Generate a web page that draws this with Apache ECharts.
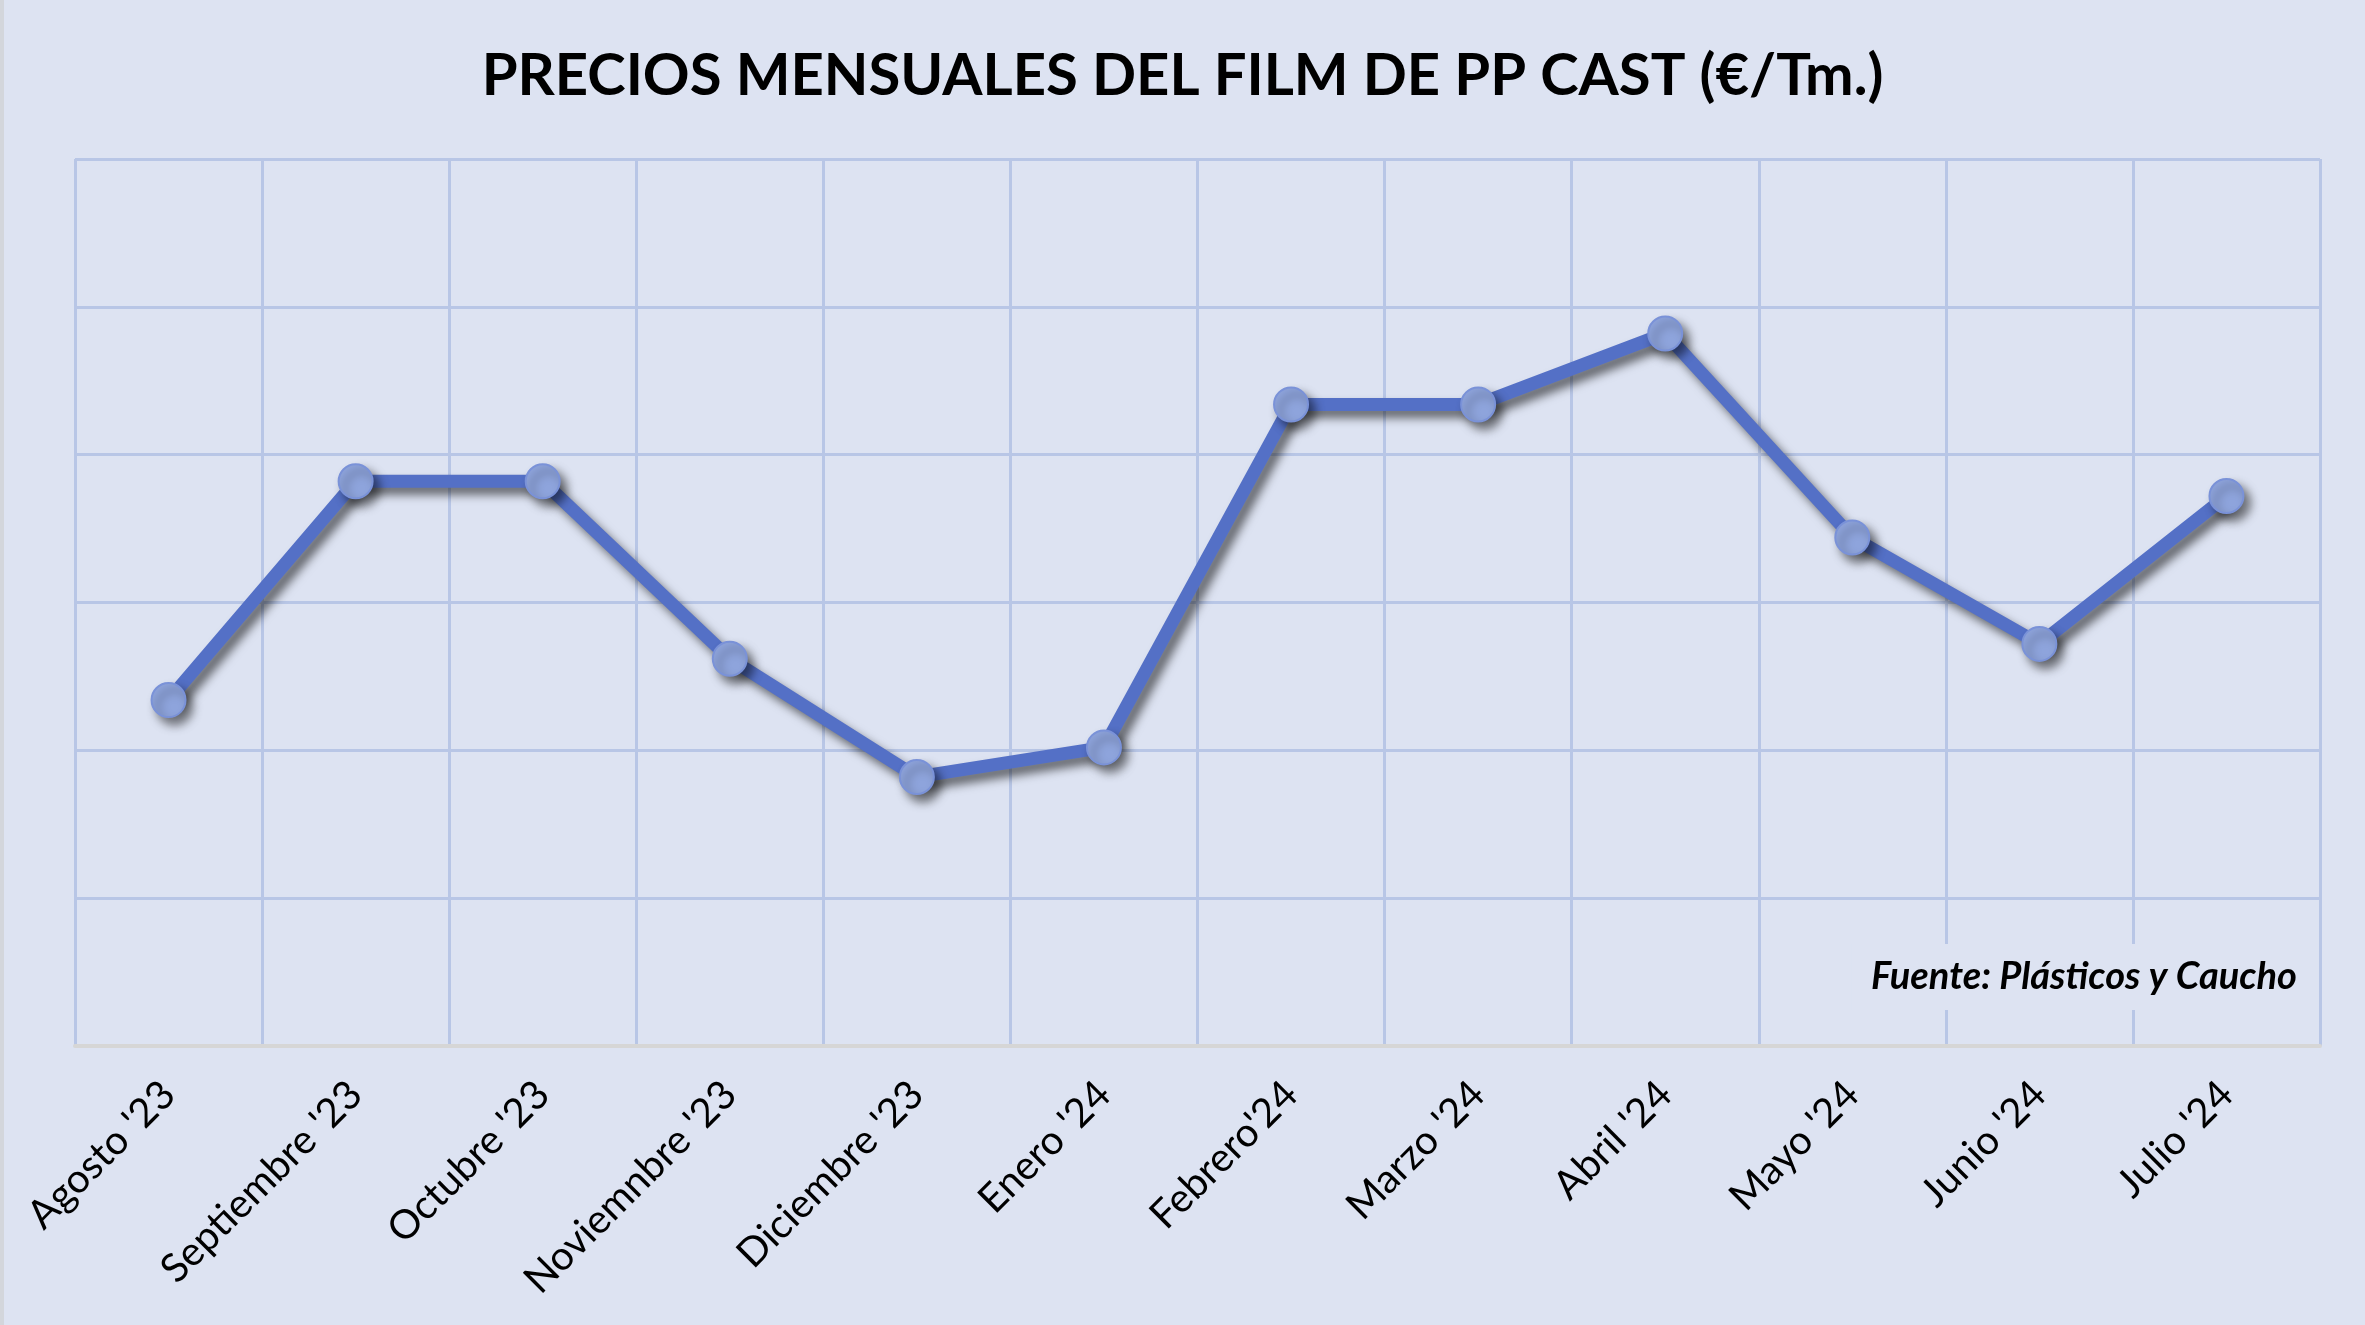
<!DOCTYPE html>
<html>
<head>
<meta charset="utf-8">
<script src="https://cdn.jsdelivr.net/npm/echarts@6/dist/echarts.min.js"></script>
<style>
html,body{margin:0;padding:0;background:#DDE3F2;}
#chart{width:2365px;height:1325px;}
</style>
</head>
<body>
<div id="chart"></div>
<script>
const categories = ["Agosto '23","Septiembre '23","Octubre '23","Noviemnbre '23","Diciembre '23","Enero '24","Febrero'24","Marzo '24","Abril '24","Mayo '24","Junio '24","Julio '24"];
const prices = [1417,1491,1491,1431,1391,1401,1517,1517,1541,1472,1436,1486];
const yMin = 1300, yMax = 1600, yStep = 50;
const titleText = "PRECIOS MENSUALES DEL FILM DE PP CAST (€/Tm.)";
const sourceText = "Fuente: Plásticos y Caucho";

const chart = echarts.init(document.getElementById('chart'));
chart.setOption({
  backgroundColor: '#DDE3F2',
  animation: false,
  title: {
    text: titleText,
    left: 'center',
    top: 42,
    textStyle: {fontFamily: 'Lato', fontWeight: 'bold', fontSize: 58, color: '#000'}
  },
  grid: {left: 75, right: 45, top: 159, bottom: 279, containLabel: false},
  xAxis: {
    type: 'category',
    data: categories,
    boundaryGap: true,
    axisLine: {show: true, lineStyle: {color: '#D6D6D6', width: 4}},
    axisTick: {show: false},
    splitLine: {show: true, lineStyle: {color: '#B8C6E6', width: 3}},
    axisLabel: {rotate: 45, interval: 0, margin: 42, fontFamily: 'Lato', fontSize: 40, color: '#000'}
  },
  yAxis: {
    type: 'value',
    min: yMin, max: yMax, interval: yStep,
    axisLabel: {show: false},
    axisLine: {show: false},
    axisTick: {show: false},
    splitLine: {show: true, lineStyle: {color: '#B8C6E6', width: 3}}
  },
  series: [{
    type: 'line',
    data: prices,
    symbol: 'circle',
    symbolSize: 34,
    z: 5,
    lineStyle: {color: '#5470C6', width: 13, shadowColor: 'rgba(0,0,0,0.55)', shadowBlur: 10, shadowOffsetX: 6, shadowOffsetY: 7},
    itemStyle: {color: '#8EA4DC', borderColor: '#7A92D8', borderWidth: 2, shadowColor: 'rgba(0,0,0,0.5)', shadowBlur: 10, shadowOffsetX: 6, shadowOffsetY: 7}
  }],
  graphic: [
    {type: 'rect', left: 0, top: 0, z: 100, shape: {width: 4, height: 1325}, style: {fill: '#D3D6DC'}},
    {type: 'text', right: 48, top: 944, z: 100,
     style: {text: sourceText, fontFamily: 'Lato', fontStyle: 'italic', fontWeight: 'bold', fontSize: 38, fill: '#000',
             backgroundColor: '#DDE3F2', padding: [14, 20, 14, 20]}}
  ]
});
</script>
</body>
</html>
